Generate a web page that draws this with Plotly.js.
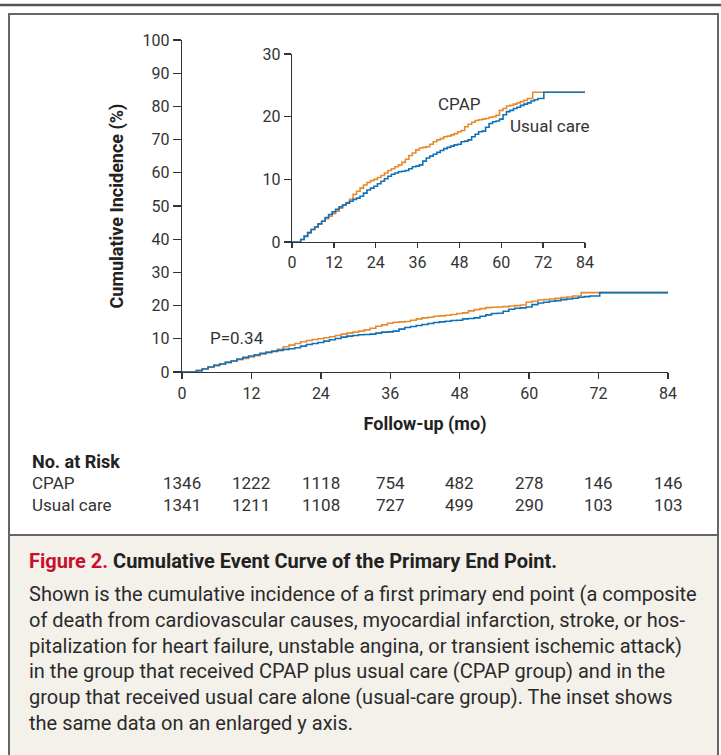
<!DOCTYPE html>
<html>
<head>
<meta charset="utf-8">
<script src="https://cdn.plot.ly/plotly-3.0.1.min.js"></script>
<style>
html,body{margin:0;padding:0;background:#fff;}
#chart{width:721px;height:755px;}
</style>
</head>
<body>
<div id="chart"></div>
<script>
// ---- data ----
var cpapMonths = [0,1.5,2.5,3.5,4.5,5.5,6.5,7.5,8.5,9.5,10.5,11.5,12.5,13.5,14.5,15.5,16.5,17.5,18.5,19.5,20.5,21.5,22.5,23.5,24.5,25.5,26.5,27.5,28.5,29.5,30.5,31.5,32.5,33.5,34.5,35.5,36.5,37.5,38.5,39.5,40.5,41.5,42.5,43.5,44.5,45.5,46.5,47.5,48.5,49.5,50.5,51.5,52.5,53.5,54.5,55.5,56.5,57.5,58.5,59.5,60.5,61.5,62.5,63.5,64.5,65.5,66.5,67.5,69,84.8];
var cpapPct    = [0,0,0.4,1.0,1.5,2.0,2.4,2.9,3.3,3.7,4.1,4.5,4.9,5.4,5.9,6.3,6.8,7.6,8.1,8.6,9.1,9.5,9.8,10.0,10.3,10.6,11.0,11.4,11.7,12.0,12.3,12.7,13.2,13.8,14.2,14.7,15.0,15.1,15.2,15.6,16.0,16.3,16.5,16.8,16.9,17.1,17.3,17.6,17.8,18.4,18.8,19.1,19.4,19.5,19.6,19.7,19.9,20.0,20.2,21.0,21.3,21.7,21.8,22.0,22.2,22.4,22.6,22.9,23.9,23.9];
var usualMonths = [0,1.8,2.5,3.5,4.5,5.5,6.5,7.5,8.5,9.5,10.5,11.5,12.5,13.5,14.5,15.5,16.5,17.5,18.5,19.5,20.5,21.5,22.5,23.5,24.5,25.5,26.5,27.5,28.5,29.5,30.5,31.5,32.5,33.5,34.5,35.5,36.5,37.5,38.5,39.5,40.5,41.5,42.5,43.5,44.5,45.5,46.5,47.5,48.5,49.5,50.5,51.5,52.5,53.5,54.5,55.5,56.5,57.5,58.5,59.5,60.5,61.5,62.5,63.5,64.5,65.5,66.5,67.5,68.5,69.5,70.5,72.2,84];
var usualPct    = [0,0,0.4,0.9,1.5,2.0,2.4,2.9,3.3,3.9,4.4,4.8,5.2,5.6,5.9,6.2,6.5,6.8,7.0,7.3,7.8,8.3,8.6,8.9,9.3,9.7,10.1,10.5,10.8,11.0,11.2,11.3,11.4,11.7,12.0,12.1,12.3,12.9,13.4,13.7,14.0,14.3,14.6,14.9,15.1,15.3,15.5,15.6,16.0,16.1,16.3,16.8,17.2,17.6,17.7,18.3,18.9,19.2,19.3,19.6,20.3,20.8,21.0,21.3,21.5,21.8,22.0,22.2,22.5,22.7,22.9,23.9,23.9];

var xTicks = [0,12,24,36,48,60,72,84];
var mainYTicks = [0,10,20,30,40,50,60,70,80,90,100];
var insetYTicks = [0,10,20,30];

var riskMonths = [0,12,24,36,48,60,72,84];
var riskCPAP  = [1346,1222,1118,754,482,278,146,146];
var riskUsual = [1341,1211,1108,727,499,290,103,103];

var seriesNames = ['CPAP','Usual care'];
var pLabel = 'P=0.34';
var yTitle = 'Cumulative Incidence (%)';
var xTitle = 'Follow-up (mo)';
var riskTitle = 'No. at Risk';
var figLabel = 'Figure 2.';
var figTitle = ' Cumulative Event Curve of the Primary End Point.';
var captionLines = [
  'Shown is the cumulative incidence of a first primary end point (a composite',
  'of death from cardiovascular causes, myocardial infarction, stroke, or hos-',
  'pitalization for heart failure, unstable angina, or transient ischemic attack)',
  'in the group that received CPAP plus usual care (CPAP group) and in the',
  'group that received usual care alone (usual-care group). The inset shows',
  'the same data on an enlarged y axis.'
];

// ---- styling ----
var W = 721, H = 755;
var ORANGE = '#e8892c', BLUE = '#0d72b8', INK = '#333333';
var FONT = 'Roboto, "Open Sans", sans-serif';
function px(x){return x/W;}
function py(y){return 1 - y/H;}

var traces = [
  {x:cpapMonths, y:cpapPct, xaxis:'x', yaxis:'y', mode:'lines', line:{shape:'hv', color:ORANGE, width:1.6}, name:seriesNames[0], hoverinfo:'skip'},
  {x:usualMonths, y:usualPct, xaxis:'x', yaxis:'y', mode:'lines', line:{shape:'hv', color:BLUE, width:1.6}, name:seriesNames[1], hoverinfo:'skip'},
  {x:cpapMonths, y:cpapPct, xaxis:'x2', yaxis:'y2', mode:'lines', line:{shape:'hv', color:ORANGE, width:1.6}, name:seriesNames[0], hoverinfo:'skip'},
  {x:usualMonths, y:usualPct, xaxis:'x2', yaxis:'y2', mode:'lines', line:{shape:'hv', color:BLUE, width:1.6}, name:seriesNames[1], hoverinfo:'skip'}
];

var axisCommon = {
  showgrid:false, zeroline:false, showline:true, linecolor:INK, linewidth:1.3,
  ticks:'outside', tickcolor:INK, tickwidth:1.3, tickfont:{family:FONT, size:16, color:INK},
  fixedrange:true
};

var annotations = [];
// risk table
annotations.push({xref:'paper', yref:'paper', x:px(30), y:py(461), xanchor:'left', yanchor:'middle', showarrow:false,
  text:'<b>'+riskTitle+'</b>', font:{family:FONT, size:18, color:'#222'}});
annotations.push({xref:'paper', yref:'paper', x:px(30), y:py(483), xanchor:'left', yanchor:'middle', showarrow:false,
  text:seriesNames[0], font:{family:FONT, size:17, color:INK}});
annotations.push({xref:'paper', yref:'paper', x:px(30), y:py(505), xanchor:'left', yanchor:'middle', showarrow:false,
  text:seriesNames[1], font:{family:FONT, size:17, color:INK}});
for (var i=0;i<riskMonths.length;i++){
  annotations.push({xref:'x', yref:'paper', x:riskMonths[i], y:py(483), xanchor:'center', yanchor:'middle', showarrow:false,
    text:String(riskCPAP[i]), font:{family:FONT, size:17, color:INK}});
  annotations.push({xref:'x', yref:'paper', x:riskMonths[i], y:py(505), xanchor:'center', yanchor:'middle', showarrow:false,
    text:String(riskUsual[i]), font:{family:FONT, size:17, color:INK}});
}
// curve labels
annotations.push({xref:'x2', yref:'y2', x:48, y:22, xanchor:'center', yanchor:'middle', showarrow:false,
  text:seriesNames[0], font:{family:FONT, size:17, color:INK}});
annotations.push({xref:'x2', yref:'y2', x:74, y:18.5, xanchor:'center', yanchor:'middle', showarrow:false,
  text:seriesNames[1], font:{family:FONT, size:17, color:INK}});
annotations.push({xref:'x', yref:'y', x:9.5, y:10.2, xanchor:'center', yanchor:'middle', showarrow:false,
  text:pLabel, font:{family:FONT, size:17, color:INK}});
// caption
annotations.push({xref:'paper', yref:'paper', x:px(27), y:py(561), xanchor:'left', yanchor:'middle', showarrow:false,
  text:'<b><span style="color:#c8102e">'+figLabel+'</span>'+figTitle+'</b>', font:{family:FONT, size:20, color:'#222'}});
for (var j=0;j<captionLines.length;j++){
  annotations.push({xref:'paper', yref:'paper', x:px(27), y:py(594 + j*25.8), xanchor:'left', yanchor:'middle', showarrow:false,
    text:captionLines[j], font:{family:FONT, size:20, color:'#2b2b2b'}});
}

var shapes = [
  {type:'rect', xref:'paper', yref:'paper', x0:px(9), x1:px(718), y0:-0.01, y1:py(535), fillcolor:'#f4f1eb', line:{width:0}, layer:'below'},
  {type:'line', xref:'paper', yref:'paper', x0:0, x1:1, y0:py(5), y1:py(5), line:{color:'#555', width:2.5}},
  {type:'rect', xref:'paper', yref:'paper', x0:px(9), x1:px(718), y0:-0.02, y1:py(14), line:{color:'#666', width:2}},
  {type:'line', xref:'paper', yref:'paper', x0:px(9), x1:px(718), y0:py(535), y1:py(535), line:{color:'#666', width:2}}
];

var layout = {
  width:W, height:H, margin:{l:0,r:0,t:0,b:0},
  paper_bgcolor:'#ffffff', plot_bgcolor:'rgba(0,0,0,0)',
  showlegend:false, font:{family:FONT, color:INK},
  xaxis: Object.assign({}, axisCommon, {domain:[px(182), px(668)], range:[0,84], tickvals:xTicks, ticklen:6, anchor:'y',
    title:{text:'<b>'+xTitle+'</b>', font:{family:FONT, size:18, color:'#222'}, standoff:16}}),
  yaxis: Object.assign({}, axisCommon, {domain:[py(372), py(40)], range:[0,100], tickvals:mainYTicks, ticklen:8, anchor:'x',
    title:{text:'<b>'+yTitle+'</b>', font:{family:FONT, size:18, color:'#222'}, standoff:14}}),
  xaxis2: Object.assign({}, axisCommon, {domain:[px(292), px(585)], range:[0,84], tickvals:xTicks, ticklen:5, anchor:'y2'}),
  yaxis2: Object.assign({}, axisCommon, {domain:[py(242), py(54)], range:[0,30], tickvals:insetYTicks, ticklen:7, anchor:'x2'}),
  annotations:annotations,
  shapes:shapes
};

Plotly.newPlot('chart', traces, layout, {staticPlot:true, displayModeBar:false});
</script>
</body>
</html>
